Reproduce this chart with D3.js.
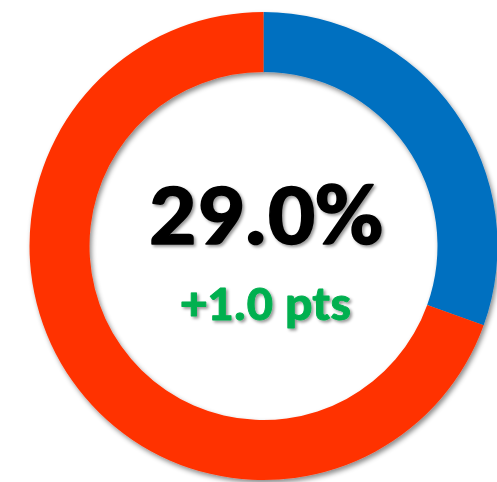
<!DOCTYPE html>
<html>
<head>
<meta charset="utf-8">
<script src="https://cdn.jsdelivr.net/npm/d3@7"></script>
<style>
  html, body { margin: 0; padding: 0; background: #fff; overflow: hidden; }
  svg { display: block; }
</style>
</head>
<body>
<div id="chart"></div>
<script>
// slice shares as drawn (blue slice measured off the ring)
const categories = ["Share", "Rest"];
const shares = [30.5, 69.5];
const sliceColors = ["#0070C0", "#FF3300"];
const headline = "29.0%";
const change = "+1.0 pts";

const width = 497, height = 482;
const cx = 263.5, cy = 246;
const outerR = 234, innerR = 174;
const fontStack = "Carlito, Calibri, Lato, 'Open Sans', sans-serif";

const svg = d3.select("#chart").append("svg")
  .attr("width", width)
  .attr("height", height);

const defs = svg.append("defs");
const ringShadow = defs.append("filter")
  .attr("id", "ringShadow")
  .attr("x", "-10%").attr("y", "-10%")
  .attr("width", "120%").attr("height", "120%");
ringShadow.append("feDropShadow")
  .attr("dx", 2).attr("dy", 3)
  .attr("stdDeviation", 2.5)
  .attr("flood-color", "#000")
  .attr("flood-opacity", 0.45);

const textShadow = defs.append("filter")
  .attr("id", "textShadow")
  .attr("x", "-10%").attr("y", "-20%")
  .attr("width", "120%").attr("height", "140%");
textShadow.append("feDropShadow")
  .attr("dx", 2).attr("dy", 2)
  .attr("stdDeviation", 1.6)
  .attr("flood-color", "#000")
  .attr("flood-opacity", 0.4);

const data = categories.map((c, i) => ({ name: c, value: shares[i] }));

const pie = d3.pie().sort(null).value(d => d.value);
const arc = d3.arc().innerRadius(innerR).outerRadius(outerR);
const color = d3.scaleOrdinal().domain(categories).range(sliceColors);

const ring = svg.append("g")
  .attr("transform", `translate(${cx},${cy})`)
  .attr("filter", "url(#ringShadow)");

ring.selectAll("path")
  .data(pie(data))
  .join("path")
  .attr("d", arc)
  .attr("fill", d => color(d.data.name));

// size text so the digit height matches, whatever font gets picked
const ctx = document.createElement("canvas").getContext("2d");
const digitHeight = (size) => {
  ctx.font = `bold ${size}px ${fontStack}`;
  const m = ctx.measureText("0");
  return m.actualBoundingBoxAscent;
};
const sizeFor = (target) => 100 * target / digitHeight(100);

const labels = svg.append("g").attr("filter", "url(#textShadow)");

labels.append("text")
  .attr("x", 266)
  .attr("y", 244)
  .attr("text-anchor", "middle")
  .attr("font-family", fontStack)
  .attr("font-weight", "bold")
  .attr("font-size", sizeFor(58))
  .attr("textLength", 234)
  .attr("lengthAdjust", "spacingAndGlyphs")
  .attr("fill", "#000")
  .attr("stroke", "#000")
  .attr("stroke-width", 1.6)
  .attr("stroke-linejoin", "round")
  .text(headline);

labels.append("text")
  .attr("x", 266)
  .attr("y", 320)
  .attr("text-anchor", "middle")
  .attr("font-family", fontStack)
  .attr("font-weight", "bold")
  .attr("font-size", sizeFor(31.5))
  .attr("textLength", 170)
  .attr("lengthAdjust", "spacingAndGlyphs")
  .attr("fill", "#00B050")
  .attr("stroke", "#00B050")
  .attr("stroke-width", 0.9)
  .attr("stroke-linejoin", "round")
  .text(change);
</script>
</body>
</html>
